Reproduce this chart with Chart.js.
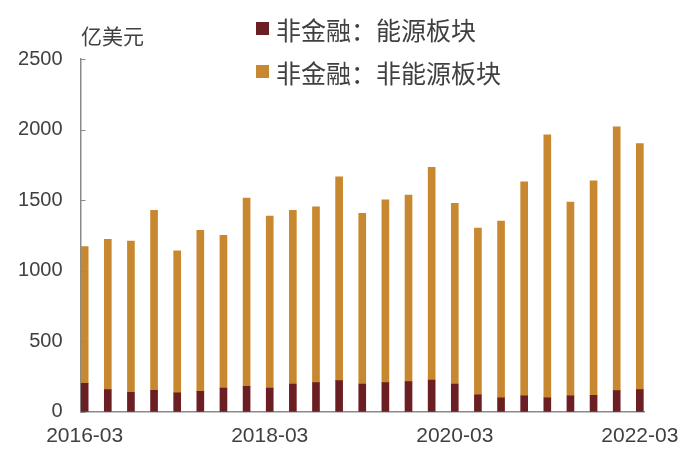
<!DOCTYPE html>
<html>
<head>
<meta charset="utf-8">
<script src="https://cdn.jsdelivr.net/npm/chart.js@4"></script>
<style>
  html, body { margin: 0; padding: 0; background: #fff; }
  #wrap { position: relative; width: 700px; height: 466px; }
  #chart { position: absolute; left: 0; top: 0; }
  .unit { position: absolute; left: 81px; top: 23px; font: 21px "Noto Sans CJK SC", sans-serif; color: #404040; line-height: 24px; }
  #legend { position: absolute; left: 256px; top: 15px; }
  .item { display: flex; align-items: center; height: 27px; margin-bottom: 16px; font: 25px "Noto Sans CJK SC", sans-serif; color: #404040; }
  .box { width: 13px; height: 13px; margin-right: 7px; }
</style>
</head>
<body>
<div id="wrap">
  <canvas id="chart" width="700" height="466"></canvas>
  <div class="unit">亿美元</div>
  <div id="legend"></div>
</div>
<script>
const quarters = ['2016-03','2016-06','2016-09','2016-12','2017-03','2017-06','2017-09','2017-12',
    '2018-03','2018-06','2018-09','2018-12','2019-03','2019-06','2019-09','2019-12',
    '2020-03','2020-06','2020-09','2020-12','2021-03','2021-06','2021-09','2021-12','2022-03']
const energy = [201, 156, 138, 152, 133, 145, 168, 180, 168, 196, 206, 220, 196,
    206, 213, 225, 196, 120, 99, 113, 99, 113, 116, 149, 156]
const nonEnergy = [969, 1066, 1072, 1276, 1008, 1141, 1082, 1335, 1219, 1232, 1247, 1444, 1210,
    1295, 1323, 1507, 1281, 1182, 1253, 1517, 1864, 1373, 1521, 1871, 1744]
const xTicks = [0, 8, 16, 24]
const yTicks = [0, 500, 1000, 1500, 2000, 2500]

const seriesNames = ['非金融：能源板块', '非金融：非能源板块']
const colors = ['#6B1F23', '#C7882F']
const textColor = '#404040'
const axisColor = '#8a8a8a'

// small inward tick marks on the y axis
const innerTicks = {
    id: 'innerTicks',
    afterDraw(chart) {
        const ctx = chart.ctx
        const y = chart.scales.y
        const left = chart.chartArea.left
        ctx.save()
        ctx.strokeStyle = axisColor
        ctx.lineWidth = 1
        yTicks.forEach(v => {
            const py = Math.round(y.getPixelForValue(v)) + 0.5
            ctx.beginPath()
            ctx.moveTo(left, py)
            ctx.lineTo(left + 5, py)
            ctx.stroke()
        })
        ctx.restore()
    }
}

const toPoints = arr => arr.map((v, i) => ({ x: i, y: v }))

new Chart(document.getElementById('chart').getContext('2d'), {
    type: 'bar',
    data: {
        datasets: [
            { label: seriesNames[0], data: toPoints(energy), backgroundColor: colors[0], barThickness: 7 },
            { label: seriesNames[1], data: toPoints(nonEnergy), backgroundColor: colors[1], barThickness: 7 }
        ]
    },
    options: {
        responsive: false,
        animation: false,
        layout: { padding: { top: 59, right: 56, left: 0, bottom: 0 } },
        plugins: { legend: { display: false }, tooltip: { enabled: false } },
        scales: {
            x: {
                type: 'linear',
                stacked: true,
                offset: false,
                min: -0.18,
                max: 24.18,
                afterBuildTicks: scale => { scale.ticks = xTicks.map(v => ({ value: v })) },
                afterFit: scale => { scale.height = 54.3 },
                grid: { display: false, drawTicks: false, offset: false },
                border: { display: true, color: axisColor, width: 1.5 },
                ticks: {
                    autoSkip: false,
                    maxRotation: 0,
                    padding: 12,
                    color: textColor,
                    font: { family: '"Liberation Sans", Arial, sans-serif', size: 21 },
                    callback: v => quarters[v]
                }
            },
            y: {
                stacked: true,
                min: 0,
                max: 2500,
                afterBuildTicks: scale => { scale.ticks = yTicks.map(v => ({ value: v })) },
                afterFit: scale => { scale.width = 80.5 },
                grid: { display: false, drawTicks: false },
                border: { display: true, color: axisColor, width: 1.5 },
                ticks: {
                    padding: 18,
                    color: textColor,
                    font: { family: '"Liberation Sans", Arial, sans-serif', size: 20 },
                    callback: v => String(v)
                }
            }
        }
    },
    plugins: [innerTicks]
})

const legend = document.getElementById('legend')
seriesNames.forEach((name, i) => {
    const item = document.createElement('div')
    item.className = 'item'
    item.innerHTML = `<span class="box" style="background:${colors[i]}"></span><span>${name}</span>`
    legend.appendChild(item)
})
</script>
</body>
</html>
